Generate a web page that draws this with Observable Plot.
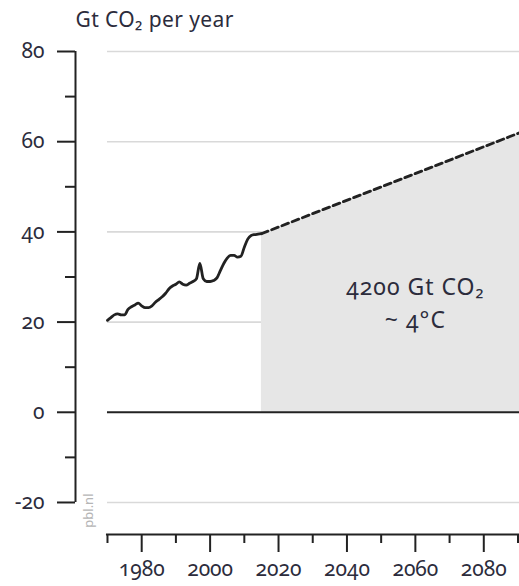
<!DOCTYPE html>
<html>
<head>
<meta charset="utf-8">
<script src="https://cdn.jsdelivr.net/npm/d3@7"></script>
<script src="https://cdn.jsdelivr.net/npm/@observablehq/plot@0.6"></script>
<style>
  html, body { margin: 0; padding: 0; background: #fff; }
  svg text { font-variant-numeric: oldstyle-nums; font-feature-settings: "onum" 1; }
  svg g[aria-label="tick label"] text, svg .wide text { letter-spacing: 0.4px; }
  svg .wider text { letter-spacing: 1px; }
</style>
</head>
<body>
<div id="chart"></div>
<script>
// Historical emissions (Gt CO2 per year)
const histYears = [1970,1971,1972,1973,1974,1975,1976,1977,1978,1979,1980,1981,1982,1983,1984,1985,1986,1987,1988,1989,1990,1991,1992,1993,1994,1995,1996,1997,1998,1999,2000,2001,2002,2003,2004,2005,2006,2007,2008,2009,2010,2011,2012,2013,2014,2015];
const histValues = [20.4,21.0,21.6,21.8,21.6,21.6,22.8,23.4,23.8,24.2,23.6,23.2,23.2,23.6,24.4,25.0,25.6,26.4,27.4,28.0,28.4,28.9,28.4,28.2,28.6,29.0,29.6,33.0,29.6,29.0,29.0,29.2,29.8,31.4,33.0,34.2,34.8,34.8,34.4,34.6,36.6,38.4,39.2,39.4,39.5,39.6];
// Projection (dashed) and cumulative budget area
const projYears = [2015, 2100];
const projValues = [39.6, 64.8];
const majorYTicks = [-20, 0, 20, 40, 60, 80];
const minorYTicks = [-10, 10, 30, 50, 70];
const gridValues = [-20, 20, 40, 60, 80];
const majorXTicks = [1980, 2000, 2020, 2040, 2060, 2080];
const minorXTicks = [1970, 1990, 2010, 2030, 2050, 2070, 2090];
const titleText = "Gt CO₂ per year";
const annotationLine1 = "4200 Gt CO₂";
const annotationLine2 = "~ 4°C";
const creditText = "pbl.nl";

const hist = histYears.map((y, i) => ({year: y, value: histValues[i]}));
const proj = projYears.map((y, i) => ({year: y, value: projValues[i]}));

const xMin = 1960.65, xMax = 2090.44, yMin = -27.1, yMax = 80;
const ink = "#222";
const textColor = "#2c2c3c";

const chart = Plot.plot({
  width: 519,
  height: 586,
  marginLeft: 75,
  marginRight: 0,
  marginTop: 51,
  marginBottom: 52,
  style: {fontFamily: "'Noto Sans', Lato, sans-serif", fontSize: "21px", color: textColor, background: "#fff"},
  x: {domain: [xMin, xMax], axis: null},
  y: {domain: [yMin, yMax], axis: null},
  marks: [
    Plot.ruleY(gridValues, {x1: 1970, x2: xMax, stroke: "#d9d9d9", strokeWidth: 1.6}),
    Plot.areaY(proj, {x: "year", y1: 0, y2: "value", fill: "#e6e6e6", clip: true}),
    Plot.ruleY([0], {x1: 1970, x2: xMax, stroke: ink, strokeWidth: 2}),
    Plot.line(hist, {x: "year", y: "value", stroke: ink, strokeWidth: 2.8, curve: "monotone-x"}),
    Plot.line(proj, {x: "year", y: "value", stroke: ink, strokeWidth: 2.8, strokeDasharray: "7,4", clip: true}),
    // y axis
    Plot.ruleX([xMin], {y1: -20, y2: 80, stroke: ink, strokeWidth: 2}),
    Plot.axisY(majorYTicks, {anchor: "left", tickSize: 18, tickPadding: 13, strokeWidth: 2, stroke: ink, fill: textColor, label: null, tickFormat: d => d < 0 ? "-" + Math.abs(d) : String(d)}),
    Plot.axisY(minorYTicks, {anchor: "left", tickSize: 10, strokeWidth: 2, stroke: ink, text: null, label: null}),
    // x axis
    Plot.ruleY([yMin], {x1: 1969.7, x2: xMax, stroke: ink, strokeWidth: 2}),
    Plot.axisX(majorXTicks, {anchor: "bottom", tickSize: 18, tickPadding: 9, strokeWidth: 2, stroke: ink, fill: textColor, label: null, tickFormat: d => String(d)}),
    Plot.axisX(minorXTicks, {anchor: "bottom", tickSize: 9, strokeWidth: 2, stroke: ink, text: null, label: null}),
    // texts
    Plot.text([titleText], {x: xMin, y: yMax, dy: -31, text: d => d, textAnchor: "start", fill: textColor, fontSize: 21, className: "wide"}),
    Plot.text([annotationLine1], {x: 2060, y: 24, dy: -16.5, text: d => d, textAnchor: "middle", fill: textColor, fontSize: 23, className: "wider"}),
    Plot.text([annotationLine2], {x: 2060, y: 24, dy: 16.5, text: d => d, textAnchor: "middle", fill: textColor, fontSize: 23, className: "wider"}),
    Plot.text([creditText], {x: 1964.6, y: -21.8, text: d => d, rotate: -90, fill: "#b5b5b5", fontSize: 13})
  ]
});
document.getElementById("chart").appendChild(chart);
</script>
</body>
</html>
